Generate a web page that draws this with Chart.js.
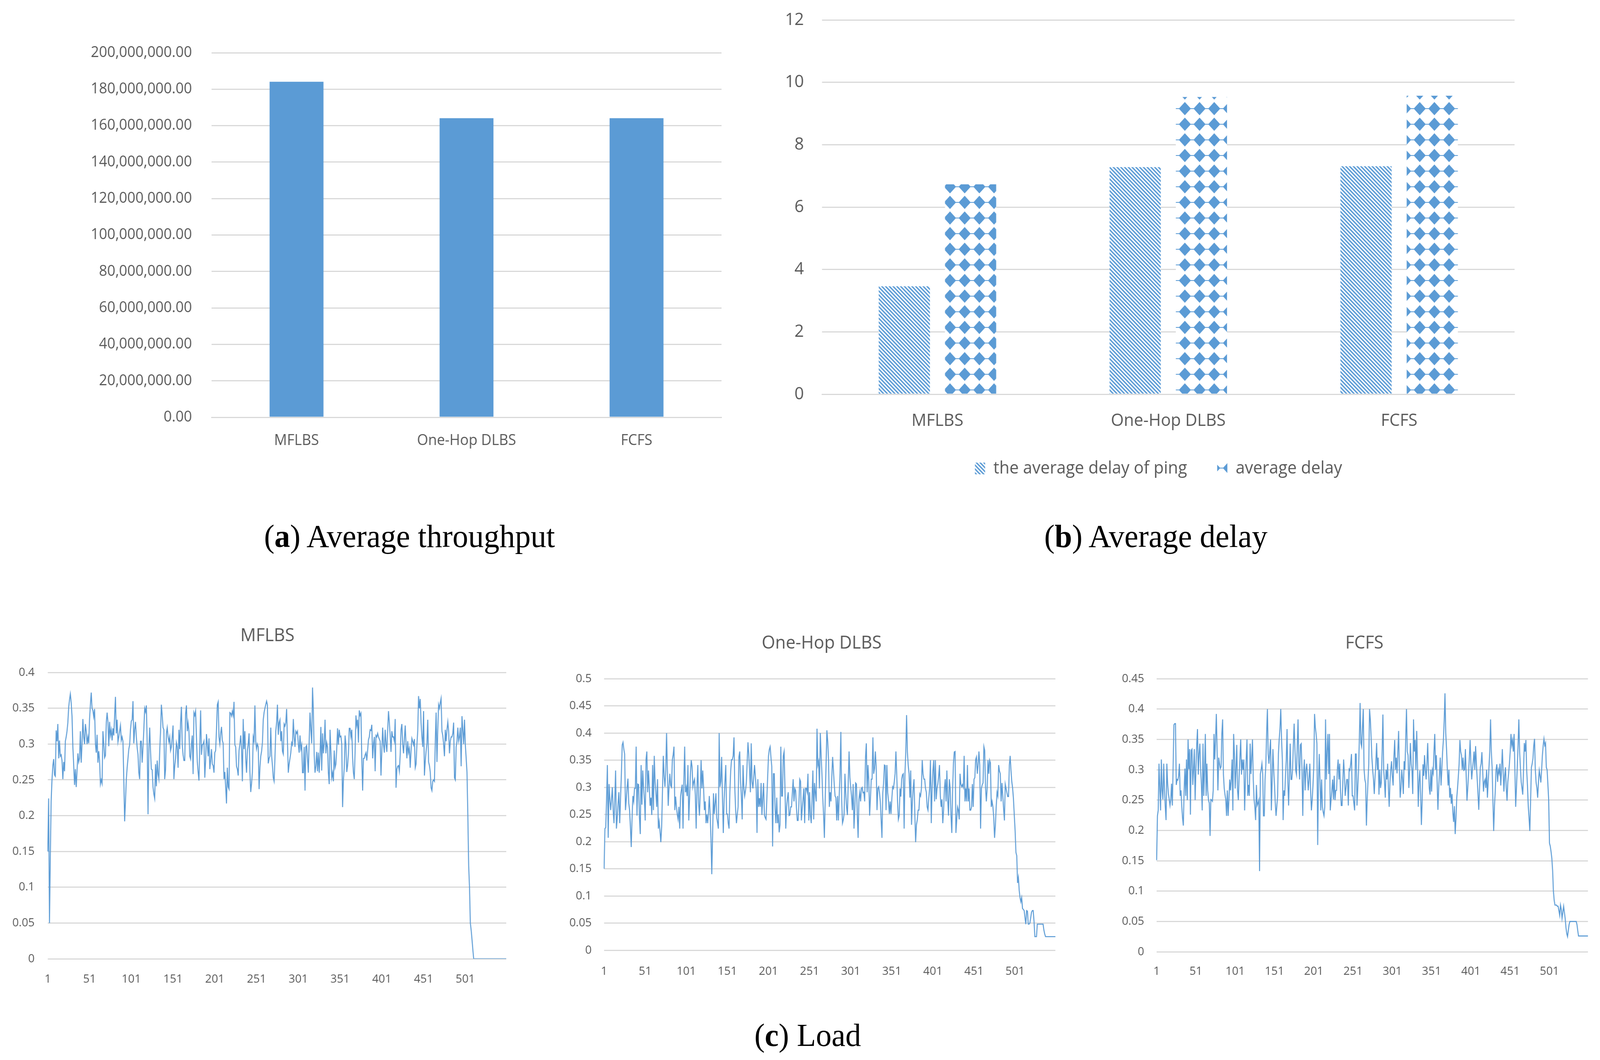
<!DOCTYPE html>
<html>
<head>
<meta charset="utf-8">
<title>MFLBS results</title>
<script src="https://cdn.jsdelivr.net/npm/chart.js@4.4.1/dist/chart.umd.min.js"></script>
<style>
  html, body { margin: 0; width: 100%; height: 100%; overflow: hidden; background: #fff; }
  #page { position: absolute; left: 0; top: 0; width: 4251px; height: 2713px; overflow: hidden; background: #fff; transform-origin: 0 0; }
  .box { position: absolute; }
  .box canvas { display: block; }
  .cap { position: absolute; transform: translate(-50%, -50%); font-family: 'Liberation Serif', serif; font-size: 83px; color: #000; white-space: nowrap; }
</style>
</head>
<body>
<div id="page">
  <div class="box" style="left:0px;top:0px;width:2000px;height:1300px"><canvas id="throughput-chart" width="2000" height="1300"></canvas></div>
  <div class="box" style="left:2000px;top:0px;width:2251px;height:1300px"><canvas id="delay-chart" width="2251" height="1300"></canvas></div>
  <div class="box" style="left:0px;top:1500px;width:1420px;height:1150px"><canvas id="load-mflbs" width="1420" height="1150"></canvas></div>
  <div class="box" style="left:1420px;top:1500px;width:1420px;height:1150px"><canvas id="load-onehop" width="1420" height="1150"></canvas></div>
  <div class="box" style="left:2840px;top:1500px;width:1411px;height:1150px"><canvas id="load-fcfs" width="1411" height="1150"></canvas></div>

  <div class="cap" style="left:1088px;top:1372px">(<b>a</b>) Average throughput</div>
  <div class="cap" style="left:3071px;top:1372px">(<b>b</b>) Average delay</div>
  <div class="cap" style="left:2146px;top:2649px">(<b>c</b>) Load</div>
</div>

<script>
'use strict';

// ******** DATA *******

let schemes = ['MFLBS', 'One-Hop DLBS', 'FCFS'];

// (a) average throughput
let avgThroughput = [184100000, 164100000, 164100000];
let throughputTicks = [0, 20000000, 40000000, 60000000, 80000000, 100000000, 120000000, 140000000, 160000000, 180000000, 200000000];

// (b) average delay
let pingDelay = [3.46, 7.28, 7.31];
let avgDelay = [6.73, 9.53, 9.57];
let delayTicks = [0, 2, 4, 6, 8, 10, 12];
let delayNames = ['the average delay of ping', 'average delay'];

// (c) load, one value per time step
let loadTickLabels = ['1', '51', '101', '151', '201', '251', '301', '351', '401', '451', '501'];
let mflbsTicks = [0, 0.05, 0.1, 0.15, 0.2, 0.25, 0.3, 0.35, 0.4];
let oneHopTicks = [0, 0.05, 0.1, 0.15, 0.2, 0.25, 0.3, 0.35, 0.4, 0.45, 0.5];
let fcfsTicks = [0, 0.05, 0.1, 0.15, 0.2, 0.25, 0.3, 0.35, 0.4, 0.45];

let mflbsLoad = [
  0.15, 0.224, 0.05, 0.14, 0.22, 0.25, 0.27, 0.279, 0.257, 0.255,
  0.319, 0.304, 0.328, 0.28, 0.305, 0.283, 0.285, 0.277, 0.251, 0.275,
  0.262, 0.304, 0.31, 0.318, 0.33, 0.351, 0.362, 0.37, 0.358, 0.339,
  0.296, 0.27, 0.243, 0.265, 0.24, 0.262, 0.287, 0.275, 0.28, 0.318,
  0.274, 0.3, 0.335, 0.31, 0.3, 0.328, 0.318, 0.3, 0.31, 0.301,
  0.335, 0.355, 0.372, 0.35, 0.347, 0.338, 0.349, 0.3, 0.288, 0.313,
  0.274, 0.29, 0.277, 0.244, 0.25, 0.245, 0.318, 0.3, 0.281, 0.284,
  0.33, 0.344, 0.331, 0.297, 0.331, 0.312, 0.32, 0.305, 0.322, 0.312,
  0.34, 0.366, 0.315, 0.334, 0.303, 0.31, 0.318, 0.326, 0.305, 0.31,
  0.304, 0.251, 0.192, 0.22, 0.251, 0.267, 0.28, 0.293, 0.299, 0.32,
  0.332, 0.334, 0.36, 0.301, 0.32, 0.331, 0.31, 0.295, 0.285, 0.26,
  0.251, 0.304, 0.304, 0.274, 0.296, 0.32, 0.35, 0.345, 0.354, 0.3,
  0.202, 0.293, 0.323, 0.29, 0.265, 0.264, 0.24, 0.23, 0.224, 0.272,
  0.241, 0.277, 0.258, 0.251, 0.29, 0.318, 0.355, 0.34, 0.323, 0.32,
  0.251, 0.264, 0.315, 0.323, 0.31, 0.303, 0.31, 0.291, 0.296, 0.31,
  0.326, 0.251, 0.269, 0.28, 0.302, 0.296, 0.267, 0.32, 0.293, 0.33,
  0.352, 0.299, 0.285, 0.277, 0.277, 0.342, 0.354, 0.318, 0.33, 0.318,
  0.283, 0.279, 0.3, 0.312, 0.258, 0.344, 0.34, 0.346, 0.31, 0.275,
  0.261, 0.249, 0.3, 0.347, 0.285, 0.299, 0.3, 0.304, 0.253, 0.277,
  0.314, 0.3, 0.283, 0.308, 0.265, 0.277, 0.293, 0.272, 0.27, 0.26,
  0.288, 0.291, 0.32, 0.355, 0.359, 0.31, 0.3, 0.315, 0.324, 0.305,
  0.301, 0.251, 0.261, 0.24, 0.217, 0.267, 0.24, 0.237, 0.344, 0.343,
  0.339, 0.346, 0.34, 0.359, 0.299, 0.296, 0.269, 0.265, 0.256, 0.291,
  0.3, 0.312, 0.293, 0.248, 0.335, 0.293, 0.318, 0.28, 0.26, 0.291,
  0.3, 0.315, 0.261, 0.233, 0.245, 0.261, 0.31, 0.304, 0.354, 0.304,
  0.293, 0.3, 0.296, 0.237, 0.267, 0.283, 0.29, 0.302, 0.334, 0.344,
  0.35, 0.355, 0.36, 0.355, 0.273, 0.28, 0.283, 0.323, 0.284, 0.27,
  0.253, 0.248, 0.28, 0.318, 0.33, 0.355, 0.313, 0.33, 0.334, 0.304,
  0.318, 0.29, 0.286, 0.328, 0.325, 0.33, 0.349, 0.304, 0.26, 0.272,
  0.28, 0.288, 0.302, 0.299, 0.335, 0.31, 0.296, 0.318, 0.315, 0.318,
  0.3, 0.288, 0.312, 0.293, 0.299, 0.26, 0.26, 0.296, 0.235, 0.296,
  0.298, 0.28, 0.26, 0.304, 0.344, 0.32, 0.301, 0.379, 0.347, 0.285,
  0.26, 0.269, 0.289, 0.262, 0.288, 0.26, 0.285, 0.324, 0.263, 0.315,
  0.287, 0.302, 0.334, 0.287, 0.302, 0.296, 0.26, 0.244, 0.32, 0.29,
  0.253, 0.26, 0.248, 0.291, 0.267, 0.272, 0.293, 0.322, 0.299, 0.32,
  0.31, 0.311, 0.3, 0.212, 0.25, 0.267, 0.312, 0.299, 0.261, 0.27,
  0.286, 0.322, 0.322, 0.31, 0.32, 0.28, 0.26, 0.251, 0.29, 0.34,
  0.326, 0.334, 0.302, 0.347, 0.34, 0.343, 0.28, 0.235, 0.28, 0.28,
  0.285, 0.288, 0.277, 0.291, 0.306, 0.31, 0.32, 0.319, 0.327, 0.28,
  0.3, 0.31, 0.262, 0.312, 0.31, 0.315, 0.31, 0.307, 0.304, 0.256,
  0.29, 0.323, 0.299, 0.288, 0.32, 0.3, 0.289, 0.32, 0.346, 0.33,
  0.312, 0.289, 0.318, 0.31, 0.31, 0.304, 0.335, 0.239, 0.265, 0.269,
  0.27, 0.262, 0.285, 0.32, 0.328, 0.3, 0.287, 0.307, 0.326, 0.299,
  0.28, 0.304, 0.288, 0.294, 0.267, 0.29, 0.308, 0.304, 0.299, 0.307,
  0.267, 0.272, 0.299, 0.318, 0.367, 0.35, 0.363, 0.33, 0.31, 0.296,
  0.346, 0.256, 0.276, 0.29, 0.301, 0.334, 0.275, 0.27, 0.261, 0.239,
  0.235, 0.248, 0.25, 0.248, 0.304, 0.344, 0.275, 0.32, 0.355, 0.35,
  0.358, 0.364, 0.318, 0.312, 0.3, 0.283, 0.32, 0.304, 0.32, 0.331,
  0.318, 0.287, 0.304, 0.31, 0.31, 0.315, 0.33, 0.253, 0.25, 0.296,
  0.304, 0.323, 0.304, 0.31, 0.323, 0.269, 0.339, 0.32, 0.3, 0.334,
  0.299, 0.28, 0.26, 0.2, 0.13, 0.1, 0.05, 0.04, 0.027, 0.013,
  0, 0, 0, 0, 0, 0, 0, 0, 0, 0,
  0, 0, 0, 0, 0, 0, 0, 0, 0, 0,
  0, 0, 0, 0, 0, 0, 0, 0, 0, 0,
  0, 0, 0, 0, 0, 0, 0, 0, 0, 0
];

let oneHopLoad = [
  0.15, 0.224, 0.226, 0.278, 0.341, 0.207, 0.306, 0.278, 0.258, 0.278,
  0.3, 0.258, 0.234, 0.278, 0.331, 0.224, 0.244, 0.27, 0.291, 0.234,
  0.28, 0.325, 0.378, 0.383, 0.37, 0.361, 0.258, 0.278, 0.3, 0.316,
  0.271, 0.258, 0.227, 0.19, 0.244, 0.284, 0.274, 0.298, 0.298, 0.375,
  0.248, 0.306, 0.305, 0.244, 0.214, 0.341, 0.268, 0.331, 0.3, 0.278,
  0.239, 0.351, 0.366, 0.291, 0.331, 0.3, 0.266, 0.281, 0.249, 0.341,
  0.258, 0.358, 0.311, 0.29, 0.264, 0.315, 0.224, 0.237, 0.22, 0.199,
  0.227, 0.294, 0.358, 0.321, 0.301, 0.33, 0.4, 0.331, 0.266, 0.3,
  0.325, 0.303, 0.3, 0.351, 0.36, 0.375, 0.258, 0.283, 0.264, 0.25,
  0.241, 0.264, 0.224, 0.283, 0.295, 0.305, 0.224, 0.311, 0.375, 0.291,
  0.3, 0.284, 0.341, 0.239, 0.28, 0.325, 0.35, 0.338, 0.301, 0.31,
  0.315, 0.284, 0.224, 0.301, 0.341, 0.27, 0.248, 0.291, 0.35, 0.298,
  0.331, 0.3, 0.258, 0.274, 0.234, 0.25, 0.234, 0.254, 0.284, 0.251,
  0.207, 0.14, 0.211, 0.289, 0.251, 0.27, 0.289, 0.244, 0.235, 0.224,
  0.4, 0.301, 0.311, 0.356, 0.28, 0.216, 0.278, 0.31, 0.341, 0.251,
  0.251, 0.234, 0.224, 0.291, 0.33, 0.351, 0.351, 0.358, 0.392, 0.298,
  0.258, 0.234, 0.25, 0.264, 0.356, 0.366, 0.311, 0.283, 0.241, 0.341,
  0.3, 0.284, 0.294, 0.308, 0.345, 0.383, 0.361, 0.33, 0.291, 0.381,
  0.311, 0.298, 0.318, 0.341, 0.32, 0.298, 0.216, 0.315, 0.264, 0.28,
  0.264, 0.308, 0.249, 0.28, 0.308, 0.249, 0.244, 0.241, 0.28, 0.321,
  0.358, 0.37, 0.375, 0.355, 0.338, 0.191, 0.325, 0.325, 0.26, 0.234,
  0.281, 0.234, 0.25, 0.217, 0.231, 0.375, 0.284, 0.284, 0.358, 0.366,
  0.3, 0.224, 0.264, 0.28, 0.291, 0.248, 0.249, 0.264, 0.264, 0.29,
  0.315, 0.274, 0.298, 0.294, 0.261, 0.239, 0.239, 0.27, 0.315, 0.311,
  0.239, 0.26, 0.278, 0.298, 0.234, 0.298, 0.298, 0.291, 0.325, 0.239,
  0.291, 0.248, 0.234, 0.28, 0.331, 0.241, 0.308, 0.29, 0.274, 0.408,
  0.341, 0.348, 0.298, 0.4, 0.36, 0.325, 0.281, 0.25, 0.207, 0.278,
  0.341, 0.405, 0.385, 0.351, 0.264, 0.291, 0.274, 0.32, 0.356, 0.331,
  0.305, 0.284, 0.281, 0.239, 0.284, 0.239, 0.284, 0.325, 0.402, 0.278,
  0.234, 0.24, 0.251, 0.325, 0.289, 0.264, 0.249, 0.311, 0.366, 0.318,
  0.3, 0.284, 0.258, 0.306, 0.224, 0.258, 0.308, 0.306, 0.25, 0.207,
  0.278, 0.291, 0.274, 0.298, 0.3, 0.29, 0.291, 0.274, 0.355, 0.381,
  0.291, 0.341, 0.311, 0.248, 0.28, 0.315, 0.315, 0.392, 0.325, 0.335,
  0.366, 0.338, 0.258, 0.298, 0.301, 0.29, 0.274, 0.241, 0.207, 0.289,
  0.308, 0.341, 0.34, 0.258, 0.341, 0.291, 0.274, 0.251, 0.274, 0.251,
  0.278, 0.301, 0.298, 0.31, 0.325, 0.366, 0.325, 0.274, 0.241, 0.248,
  0.298, 0.283, 0.315, 0.323, 0.325, 0.224, 0.325, 0.365, 0.433, 0.365,
  0.34, 0.325, 0.281, 0.331, 0.231, 0.274, 0.298, 0.315, 0.251, 0.199,
  0.231, 0.24, 0.258, 0.258, 0.288, 0.284, 0.298, 0.35, 0.325, 0.315,
  0.315, 0.298, 0.291, 0.264, 0.258, 0.28, 0.298, 0.35, 0.234, 0.298,
  0.331, 0.35, 0.274, 0.35, 0.278, 0.298, 0.306, 0.32, 0.341, 0.284,
  0.264, 0.278, 0.234, 0.258, 0.298, 0.315, 0.274, 0.331, 0.278, 0.248,
  0.315, 0.298, 0.248, 0.216, 0.298, 0.345, 0.365, 0.366, 0.216, 0.241,
  0.264, 0.258, 0.241, 0.325, 0.306, 0.301, 0.305, 0.3, 0.358, 0.274,
  0.298, 0.274, 0.341, 0.274, 0.298, 0.258, 0.258, 0.264, 0.306, 0.264,
  0.315, 0.318, 0.351, 0.356, 0.325, 0.341, 0.366, 0.341, 0.224, 0.298,
  0.305, 0.308, 0.375, 0.368, 0.3, 0.274, 0.298, 0.35, 0.325, 0.35,
  0.345, 0.264, 0.274, 0.264, 0.244, 0.207, 0.23, 0.264, 0.291, 0.284,
  0.341, 0.33, 0.325, 0.274, 0.308, 0.284, 0.26, 0.239, 0.306, 0.298,
  0.29, 0.283, 0.283, 0.341, 0.358, 0.331, 0.31, 0.298, 0.278, 0.248,
  0.22, 0.18, 0.174, 0.124, 0.134, 0.11, 0.097, 0.089, 0.097, 0.077,
  0.075, 0.073, 0.06, 0.048, 0.073, 0.072, 0.048, 0.048, 0.05, 0.06,
  0.07, 0.073, 0.073, 0.053, 0.025, 0.025, 0.025, 0.048, 0.048, 0.048,
  0.048, 0.048, 0.048, 0.048, 0.048, 0.037, 0.03, 0.025, 0.025, 0.025,
  0.025, 0.025, 0.025, 0.025, 0.025, 0.025, 0.025, 0.025, 0.025, 0.025
];

let fcfsLoad = [
  0.151, 0.224, 0.233, 0.31, 0.27, 0.233, 0.317, 0.266, 0.251, 0.31,
  0.269, 0.239, 0.217, 0.31, 0.277, 0.26, 0.251, 0.241, 0.251, 0.277,
  0.241, 0.305, 0.374, 0.376, 0.376, 0.275, 0.284, 0.283, 0.29, 0.31,
  0.257, 0.266, 0.239, 0.22, 0.208, 0.266, 0.302, 0.257, 0.317, 0.25,
  0.35, 0.301, 0.334, 0.226, 0.332, 0.334, 0.275, 0.3, 0.334, 0.25,
  0.299, 0.341, 0.367, 0.292, 0.326, 0.343, 0.3, 0.275, 0.233, 0.343,
  0.257, 0.3, 0.359, 0.257, 0.31, 0.266, 0.25, 0.245, 0.191, 0.251,
  0.25, 0.248, 0.266, 0.359, 0.317, 0.35, 0.392, 0.33, 0.266, 0.32,
  0.31, 0.302, 0.305, 0.359, 0.383, 0.293, 0.27, 0.259, 0.251, 0.224,
  0.266, 0.224, 0.25, 0.284, 0.266, 0.284, 0.317, 0.233, 0.359, 0.326,
  0.269, 0.3, 0.341, 0.266, 0.25, 0.29, 0.32, 0.35, 0.292, 0.317,
  0.3, 0.317, 0.233, 0.281, 0.317, 0.35, 0.257, 0.275, 0.257, 0.343,
  0.293, 0.32, 0.35, 0.284, 0.251, 0.239, 0.217, 0.275, 0.241, 0.245,
  0.25, 0.133, 0.293, 0.3, 0.31, 0.293, 0.224, 0.224, 0.284, 0.308,
  0.36, 0.4, 0.326, 0.31, 0.33, 0.35, 0.233, 0.281, 0.334, 0.3,
  0.275, 0.245, 0.224, 0.24, 0.257, 0.326, 0.35, 0.368, 0.4, 0.35,
  0.317, 0.217, 0.266, 0.257, 0.29, 0.317, 0.367, 0.281, 0.241, 0.293,
  0.343, 0.284, 0.284, 0.3, 0.341, 0.376, 0.335, 0.299, 0.292, 0.34,
  0.383, 0.31, 0.284, 0.341, 0.343, 0.3, 0.224, 0.293, 0.317, 0.266,
  0.299, 0.31, 0.29, 0.266, 0.284, 0.31, 0.266, 0.233, 0.25, 0.275,
  0.305, 0.392, 0.37, 0.359, 0.343, 0.176, 0.284, 0.326, 0.28, 0.233,
  0.284, 0.239, 0.23, 0.224, 0.239, 0.383, 0.284, 0.33, 0.359, 0.293,
  0.359, 0.233, 0.25, 0.266, 0.284, 0.251, 0.29, 0.25, 0.266, 0.266,
  0.3, 0.317, 0.284, 0.31, 0.266, 0.241, 0.241, 0.28, 0.317, 0.293,
  0.257, 0.27, 0.284, 0.284, 0.241, 0.301, 0.299, 0.31, 0.326, 0.257,
  0.257, 0.245, 0.233, 0.326, 0.326, 0.241, 0.27, 0.299, 0.35, 0.41,
  0.344, 0.338, 0.37, 0.4, 0.301, 0.284, 0.278, 0.208, 0.251, 0.28,
  0.31, 0.4, 0.383, 0.354, 0.32, 0.3, 0.284, 0.26, 0.289, 0.31,
  0.344, 0.3, 0.32, 0.259, 0.3, 0.27, 0.279, 0.33, 0.391, 0.3,
  0.28, 0.254, 0.3, 0.284, 0.31, 0.27, 0.239, 0.28, 0.3, 0.314,
  0.29, 0.274, 0.32, 0.349, 0.3, 0.32, 0.294, 0.33, 0.364, 0.3,
  0.254, 0.27, 0.3, 0.284, 0.26, 0.314, 0.3, 0.35, 0.4, 0.33,
  0.324, 0.27, 0.3, 0.344, 0.31, 0.299, 0.26, 0.383, 0.33, 0.349,
  0.3, 0.364, 0.31, 0.239, 0.28, 0.299, 0.26, 0.209, 0.25, 0.309,
  0.29, 0.324, 0.3, 0.284, 0.31, 0.344, 0.3, 0.27, 0.259, 0.3,
  0.264, 0.3, 0.294, 0.33, 0.359, 0.3, 0.324, 0.28, 0.234, 0.27,
  0.294, 0.32, 0.274, 0.3, 0.33, 0.349, 0.38, 0.426, 0.36, 0.334,
  0.3, 0.274, 0.3, 0.254, 0.27, 0.244, 0.26, 0.23, 0.214, 0.24,
  0.194, 0.22, 0.254, 0.27, 0.289, 0.31, 0.349, 0.33, 0.324, 0.3,
  0.32, 0.299, 0.3, 0.334, 0.29, 0.249, 0.27, 0.294, 0.32, 0.349,
  0.31, 0.284, 0.3, 0.314, 0.33, 0.3, 0.339, 0.31, 0.284, 0.26,
  0.234, 0.27, 0.304, 0.31, 0.329, 0.3, 0.264, 0.28, 0.284, 0.27,
  0.3, 0.254, 0.28, 0.304, 0.33, 0.383, 0.33, 0.304, 0.25, 0.199,
  0.24, 0.264, 0.3, 0.309, 0.28, 0.3, 0.294, 0.31, 0.274, 0.3,
  0.334, 0.3, 0.264, 0.29, 0.304, 0.27, 0.249, 0.28, 0.294, 0.31,
  0.33, 0.359, 0.34, 0.349, 0.33, 0.359, 0.3, 0.239, 0.27, 0.304,
  0.34, 0.383, 0.33, 0.304, 0.28, 0.27, 0.259, 0.3, 0.344, 0.33,
  0.349, 0.3, 0.274, 0.24, 0.22, 0.199, 0.25, 0.304, 0.31, 0.319,
  0.34, 0.351, 0.3, 0.279, 0.27, 0.254, 0.28, 0.299, 0.29, 0.279,
  0.3, 0.324, 0.34, 0.351, 0.34, 0.344, 0.304, 0.3, 0.276, 0.25,
  0.179, 0.174, 0.165, 0.154, 0.134, 0.1, 0.085, 0.077, 0.077, 0.077,
  0.075, 0.075, 0.068, 0.06, 0.077, 0.07, 0.055, 0.065, 0.075, 0.065,
  0.055, 0.04, 0.03, 0.025, 0.035, 0.045, 0.05, 0.05, 0.05, 0.05,
  0.05, 0.05, 0.05, 0.05, 0.05, 0.045, 0.035, 0.026, 0.026, 0.026,
  0.026, 0.026, 0.026, 0.026, 0.026, 0.026, 0.026, 0.026, 0.026, 0.026
];

// ******** PAGE FIT *******

// the layout is drawn on a 4251 x 2713 sheet, squeeze it into the real viewport
let page = document.getElementById('page');
let fitX = window.innerWidth / 4251;
let fitY = window.innerHeight / 2713;
if (isFinite(fitX) && isFinite(fitY) && fitX > 0.2 && fitY > 0.2) {
  page.style.transform = 'scale(' + fitX + ', ' + fitY + ')';
}

// ******** STYLE *******

let barBlue = '#5B9BD5';
let gridGray = '#d9d9d9';
let textGray = '#595959';
let clear = 'rgba(0,0,0,0)';

Chart.defaults.font.family = "'Open Sans', sans-serif";
Chart.defaults.color = textGray;

// fixed tick positions taken from the arrays above
function useTicks(values) {
  return function (scale) {
    scale.ticks = values.map(v => ({ value: v }));
  };
}

// move the title / legend boxes after layout, Excel centres them on the whole chart
let nudge = {
  id: 'nudge',
  defaults: { dx: 0, dy: 0 },
  afterLayout(chart, args, opts) {
    for (let block of [chart.titleBlock, chart.legend]) {
      if (block) {
        block.left += opts.dx;
        block.right += opts.dx;
        block.top += opts.dy;
        block.bottom += opts.dy;
      }
    }
  }
};

// Excel style pattern fills for the delay bars
function makeStripes() {
  let c = document.createElement('canvas');
  c.width = 10;
  c.height = 10;
  let g = c.getContext('2d');
  g.fillStyle = '#fff';
  g.fillRect(0, 0, 10, 10);
  g.strokeStyle = barBlue;
  g.lineWidth = 3.6;
  g.beginPath();
  g.moveTo(-5, -5); g.lineTo(15, 15);
  g.moveTo(-5, 5); g.lineTo(5, 15);
  g.moveTo(5, -5); g.lineTo(15, 5);
  g.stroke();
  return g.createPattern(c, 'repeat');
}

function makeDiamonds() {
  let c = document.createElement('canvas');
  c.width = 39;
  c.height = 40;
  let g = c.getContext('2d');
  g.fillStyle = '#fff';
  g.fillRect(0, 0, 39, 40);
  g.fillStyle = barBlue;
  g.strokeStyle = barBlue;
  g.lineWidth = 2;
  for (let dx of [-39, 0, 39]) {
    for (let dy of [-40, 0, 40]) {
      let cx = 17 + dx;
      let cy = 38 + dy;
      g.beginPath();
      g.moveTo(cx, cy - 17);
      g.lineTo(cx + 16, cy);
      g.lineTo(cx, cy + 17);
      g.lineTo(cx - 16, cy);
      g.closePath();
      g.fill();
      g.beginPath();
      g.moveTo(cx - 20, cy);
      g.lineTo(cx + 20, cy);
      g.stroke();
    }
  }
  return g.createPattern(c, 'repeat');
}

// ******** (a) THROUGHPUT *******

new Chart(document.getElementById('throughput-chart'), {
  type: 'bar',
  data: {
    labels: schemes,
    datasets: [{
      data: avgThroughput,
      backgroundColor: barBlue,
      borderWidth: 0,
      categoryPercentage: 1,
      barPercentage: 0.317
    }]
  },
  options: {
    responsive: false,
    animation: false,
    devicePixelRatio: 1,
    layout: { padding: { left: 200, right: 83, top: 135, bottom: 82 } },
    plugins: { legend: { display: false }, tooltip: { enabled: false } },
    scales: {
      x: {
        grid: { display: false, drawTicks: false },
        border: { display: true, color: gridGray, width: 3 },
        ticks: { color: textGray, font: { size: 38 }, padding: 37 },
        afterFit: function (s) { s.height = 150; }
      },
      y: {
        min: 0,
        max: 200000000,
        afterBuildTicks: useTicks(throughputTicks),
        grid: { color: gridGray, lineWidth: 3, drawTicks: true, tickLength: 52, tickColor: clear },
        border: { display: false },
        ticks: {
          color: textGray,
          font: { size: 38 },
          padding: 0,
          callback: v => v.toLocaleString('en-US', { minimumFractionDigits: 2, maximumFractionDigits: 2 })
        },
        afterFit: function (s) { s.width = 362; }
      }
    }
  }
});

// ******** (b) DELAY *******

new Chart(document.getElementById('delay-chart'), {
  type: 'bar',
  data: {
    labels: schemes,
    datasets: [{
      label: delayNames[0],
      data: pingDelay,
      backgroundColor: makeStripes(),
      borderWidth: 0,
      categoryPercentage: 0.574,
      barPercentage: 0.773
    }, {
      label: delayNames[1],
      data: avgDelay,
      backgroundColor: makeDiamonds(),
      borderWidth: 0,
      categoryPercentage: 0.574,
      barPercentage: 0.773
    }]
  },
  plugins: [nudge],
  options: {
    responsive: false,
    animation: false,
    devicePixelRatio: 1,
    layout: { padding: { left: 60, right: 227, top: 51, bottom: 37 } },
    plugins: {
      tooltip: { enabled: false },
      nudge: { dx: 36, dy: -32 },
      legend: {
        position: 'bottom',
        labels: { boxWidth: 27, boxHeight: 30, padding: 80, color: textGray, font: { size: 44 } }
      }
    },
    scales: {
      x: {
        grid: { display: false, drawTicks: false },
        border: { display: true, color: gridGray, width: 3 },
        ticks: { color: textGray, font: { size: 44 }, padding: 42 },
        afterFit: function (s) { s.height = 120; }
      },
      y: {
        min: 0,
        max: 12,
        afterBuildTicks: useTicks(delayTicks),
        grid: { color: gridGray, lineWidth: 3, drawTicks: true, tickLength: 48, tickColor: clear },
        border: { display: false },
        ticks: { color: textGray, font: { size: 44 }, padding: 0 },
        afterFit: function (s) { s.width = 124; }
      }
    }
  }
});

// ******** (c) LOAD *******

function renderLoad(id, title, series, ticks, box) {
  let steps = series.map((v, i) => String(i + 1));

  return new Chart(document.getElementById(id), {
    type: 'line',
    data: {
      labels: steps,
      datasets: [{
        data: series,
        borderColor: barBlue,
        borderWidth: 2.6,
        pointRadius: 0,
        tension: 0,
        fill: false
      }]
    },
    plugins: [nudge],
    options: {
      responsive: false,
      animation: false,
      devicePixelRatio: 1,
      layout: { padding: { left: box.left, right: box.right, top: 0, bottom: box.bottom } },
      plugins: {
        legend: { display: false },
        tooltip: { enabled: false },
        nudge: { dx: box.titleShift, dy: 0 },
        title: {
          display: true,
          text: title,
          color: textGray,
          font: { size: 46, weight: 'normal' },
          padding: { top: box.titleTop, bottom: box.titleBottom }
        }
      },
      scales: {
        x: {
          grid: { display: false, drawTicks: false },
          border: { display: false },
          ticks: {
            color: textGray,
            font: { size: 30 },
            padding: box.xPad,
            autoSkip: false,
            maxRotation: 0,
            minRotation: 0,
            callback: function (value) {
              let lab = this.getLabelForValue(value);
              return loadTickLabels.includes(lab) ? lab : '';
            }
          },
          afterFit: function (s) { s.height = 100; }
        },
        y: {
          min: 0,
          max: ticks[ticks.length - 1],
          afterBuildTicks: useTicks(ticks),
          grid: { color: gridGray, lineWidth: 3, drawTicks: true, tickLength: box.yPad, tickColor: clear },
          border: { display: false },
          ticks: { color: textGray, font: { size: 30 }, padding: 0, callback: v => String(+v.toFixed(2)) },
          afterFit: function (s) { s.width = box.yWidth; }
        }
      }
    }
  });
}

renderLoad('load-mflbs', 'MFLBS', mflbsLoad, mflbsTicks,
  { left: 20, right: 75, bottom: 96, yWidth: 107, titleShift: 28, titleTop: 100, titleBottom: 66, xPad: 34, yPad: 35 });
renderLoad('load-onehop', 'One-Hop DLBS', oneHopLoad, oneHopTicks,
  { left: 60, right: 28, bottom: 118, yWidth: 125, titleShift: 37, titleTop: 119, titleBottom: 63, xPad: 36, yPad: 33 });
renderLoad('load-fcfs', 'FCFS', fcfsLoad, fcfsTicks,
  { left: 120, right: 25, bottom: 114, yWidth: 113, titleShift: 32, titleTop: 119, titleBottom: 63, xPad: 32, yPad: 33 });
</script>
</body>
</html>
